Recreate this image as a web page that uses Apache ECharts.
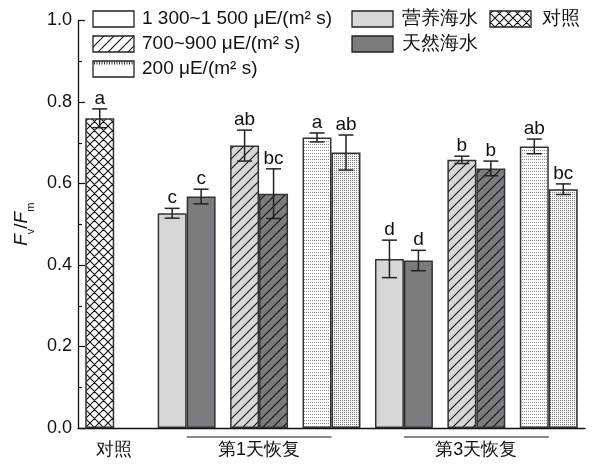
<!DOCTYPE html>
<html><head><meta charset="utf-8">
<script src="https://cdn.jsdelivr.net/npm/echarts@6/dist/echarts.min.js"></script>
<style>html,body{margin:0;padding:0;background:#fff}#c{width:596px;height:466px}</style>
</head><body><div id="c"></div>
<script>
// ---- data ----
const categories = ['对照', '第1天-1300', '第1天-700', '第1天-200', '第3天-1300', '第3天-700', '第3天-200'];
const tickLabels = ['对照', '', '第1天恢复', '', '', '第3天恢复', ''];
const lightTypes = ['control', 'plain', 'hatch', 'dot', 'plain', 'hatch', 'dot'];
const nutrientMean = [0.760, 0.527, 0.693, 0.713, 0.415, 0.658, 0.691];
const nutrientErr  = [0.023, 0.012, 0.038, 0.011, 0.046, 0.009, 0.018];
const nutrientSig  = ['a', 'c', 'ab', 'a', 'd', 'b', 'ab'];
const naturalMean  = [null, 0.568, 0.575, 0.676, 0.411, 0.637, 0.586];
const naturalErr   = [null, 0.018, 0.061, 0.043, 0.025, 0.018, 0.013];
const naturalSig   = ['', 'c', 'bc', 'ab', 'd', 'b', 'bc'];
const brackets = [[1, 3], [4, 6]];
const yTicks = [0, 0.2, 0.4, 0.6, 0.8, 1.0];

// ---- styles ----
const LIGHT = '#d7d7d9', DARK = '#7c7b80', EDGE = '#333', FONT = 'Liberation Sans, Arial, sans-serif';
function pat(w, h, draw) {
  const c = document.createElement('canvas'); c.width = w; c.height = h;
  const g = c.getContext('2d'); draw(g, w, h);
  return { image: c, repeat: 'repeat' };
}
function hatch(bg) {
  return pat(10, 10, (g, w, h) => {
    g.fillStyle = bg; g.fillRect(0, 0, w, h);
    g.strokeStyle = '#111'; g.lineWidth = 1.1; g.beginPath();
    g.moveTo(0, h); g.lineTo(w, 0);
    g.moveTo(-2, 2); g.lineTo(2, -2);
    g.moveTo(w - 2, h + 2); g.lineTo(w + 2, h - 2);
    g.stroke();
  });
}
function cross() {
  return pat(9, 9, (g, w, h) => {
    g.fillStyle = '#fff'; g.fillRect(0, 0, w, h);
    g.strokeStyle = '#111'; g.lineWidth = 1.1; g.beginPath();
    g.moveTo(0, h); g.lineTo(w, 0); g.moveTo(-2, 2); g.lineTo(2, -2); g.moveTo(w - 2, h + 2); g.lineTo(w + 2, h - 2);
    g.moveTo(0, 0); g.lineTo(w, h); g.moveTo(-2, h - 2); g.lineTo(2, h + 2); g.moveTo(w - 2, -2); g.lineTo(w + 2, 2);
    g.stroke();
  });
}
function dots(bg, col, rows) {
  return pat(4, rows, (g, w, h) => {
    g.fillStyle = bg; g.fillRect(0, 0, w, h);
    g.fillStyle = col; g.fillRect(0, 0, 1, 1); g.fillRect(2, 0, 1, 1);
  });
}
const fills = {
  light: { plain: LIGHT, hatch: hatch(LIGHT), dot: dots('#ffffff', '#8f8f8f', 3), control: cross() },
  dark:  { plain: DARK,  hatch: hatch(DARK),  dot: dots('#f6f6f6', '#7a7a7a', 2) }
};

const chart = echarts.init(document.getElementById('c'), null, { renderer: 'canvas' });

function barData(means, side) {
  return means.map((v, i) => v == null ? '-' : {
    value: v,
    itemStyle: { color: fills[side][lightTypes[i]], borderColor: EDGE, borderWidth: 1.5 }
  });
}
function errRender(side, sigs) {
  return function (params, api) {
    const i = api.value(0), m = api.value(1), e = api.value(2);
    const w = api.size([1, 0])[0] * 0.4;
    const cx = api.coord([i, m])[0] + side * w / 2;
    const yt = api.coord([i, m + e])[1], yb = api.coord([i, m - e])[1];
    const cap = 7.5;
    const ls = { stroke: '#222', lineWidth: 1.5 };
    return { type: 'group', children: [
      { type: 'line', shape: { x1: cx, y1: yt, x2: cx, y2: yb }, style: ls },
      { type: 'line', shape: { x1: cx - cap, y1: yt, x2: cx + cap, y2: yt }, style: ls },
      { type: 'line', shape: { x1: cx - cap, y1: yb, x2: cx + cap, y2: yb }, style: ls },
      { type: 'text', style: { text: sigs[params.dataIndex], x: cx, y: yt - 1, align: 'center', verticalAlign: 'bottom',
        fontSize: 19, fontFamily: FONT, fill: '#111' } }
    ] };
  };
}
function errData(means, errs) {
  const out = [];
  means.forEach((v, i) => { if (v != null) out.push([i, v, errs[i]]); });
  return out;
}

// legend graphic
const L = [];
function box(x, y, fill, extra) {
  L.push({ type: 'rect', shape: { x: x, y: y - 8, width: 41, height: 16 }, style: { fill: fill, stroke: '#222', lineWidth: 1.3 }, z: 10 });
  if (extra) L.push(extra);
}
function txt(x, y, t) {
  L.push({ type: 'text', x: x, y: y, style: { text: t, fontSize: 19, fontFamily: FONT, fill: '#111', verticalAlign: 'middle', align: 'left' }, z: 10 });
}
box(93, 19, '#fff'); txt(142, 19, '1 300~1 500 μE/(m² s)');
box(93, 44, hatch('#ffffff')); txt(142, 44, '700~900 μE/(m² s)');
box(93, 69, '#fff', { type: 'line', shape: { x1: 94, y1: 63, x2: 133, y2: 63 }, style: { stroke: '#333', lineWidth: 3, lineDash: [1, 1.5] }, z: 11 });
txt(142, 69, '200 μE/(m² s)');
box(352, 19, LIGHT); txt(402, 19, '营养海水');
box(352, 44, DARK); txt(402, 44, '天然海水');
box(490, 19, cross()); txt(542, 19, '对照');

chart.setOption({
  animation: false,
  grid: { left: 78, right: 11, top: 20.5, bottom: 38 },
  xAxis: {
    type: 'category', data: tickLabels,
    axisLine: { lineStyle: { color: '#111', width: 1.3 } },
    axisTick: { alignWithLabel: true, interval: 0, length: 9, lineStyle: { color: '#111', width: 1.2 } },
    axisLabel: { interval: 0, fontSize: 18, fontFamily: FONT, color: '#111', margin: 13 }
  },
  yAxis: {
    type: 'value', min: 0, max: 1, interval: 0.2,
    name: '{i|F}{s|v}{n|/}{i|F}{s|m}', nameLocation: 'middle', nameRotate: 90, nameGap: 36,
    nameTextStyle: { rich: {
      i: { fontSize: 19, fontStyle: 'italic', fontFamily: FONT, color: '#111', lineHeight: 24, verticalAlign: 'middle' },
      n: { fontSize: 19, fontFamily: FONT, color: '#111', lineHeight: 24, verticalAlign: 'middle' },
      s: { fontSize: 11, fontFamily: FONT, color: '#111', lineHeight: 24, verticalAlign: 'bottom', padding: [0, 0, -2, 0] }
    } },
    axisLine: { show: true, lineStyle: { color: '#111', width: 1.3 } },
    axisTick: { show: true, inside: true, length: 7, lineStyle: { color: '#111', width: 1.2 } },
    minorTick: { show: true, splitNumber: 2, length: 4, lineStyle: { color: '#111', width: 1.2 } },
    splitLine: { show: false },
    axisLabel: { fontSize: 18, fontFamily: FONT, color: '#111', margin: 6, formatter: v => v.toFixed(1) }
  },
  series: [
    { name: '营养海水', type: 'bar', data: barData(nutrientMean, 'light'), barGap: '0%', barCategoryGap: '20%', z: 2 },
    { name: '天然海水', type: 'bar', data: barData(naturalMean, 'dark'), barGap: '0%', barCategoryGap: '20%', z: 2 },
    { type: 'custom', renderItem: errRender(-1, nutrientSig), data: errData(nutrientMean, nutrientErr), z: 5 },
    { type: 'custom', renderItem: errRender(1, naturalSig.filter((s, i) => naturalMean[i] != null)), data: errData(naturalMean, naturalErr), z: 5 },
    { type: 'custom', clip: false, z: 6,
      renderItem: function (params, api) {
        const a = api.coord([api.value(0), 0]), b = api.coord([api.value(1), 0]);
        return { type: 'line', shape: { x1: a[0], y1: a[1] + 9, x2: b[0], y2: b[1] + 9 }, style: { stroke: '#111', lineWidth: 1.2 } };
      },
      data: brackets }
  ],
  graphic: L
});
</script></body></html>
